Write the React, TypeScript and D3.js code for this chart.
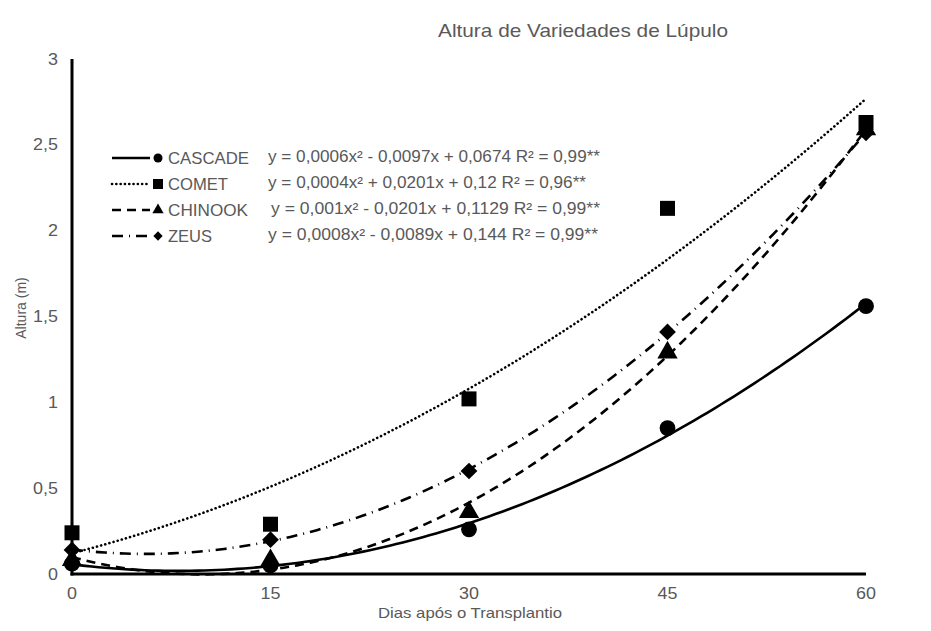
import * as d3 from 'd3'

const W = 931
const H = 631
const M = { top: 59, right: 65, bottom: 57, left: 72 }

const days = [0, 15, 30, 45, 60]
const yTicks = [0, 0.5, 1, 1.5, 2, 2.5, 3]

const cascade = [0.06, 0.05, 0.26, 0.85, 1.56]
const comet = [0.24, 0.29, 1.02, 2.13, 2.63]
const chinook = [0.08, 0.08, 0.36, 1.29, 2.59]
const zeus = [0.14, 0.2, 0.6, 1.41, 2.57]

const names = ['CASCADE', 'COMET', 'CHINOOK', 'ZEUS']
const equations = [
  'y = 0,0006x² - 0,0097x + 0,0674 R² = 0,99**',
  'y = 0,0004x² + 0,0201x + 0,12 R² = 0,96**',
  'y = 0,001x² - 0,0201x + 0,1129 R² = 0,99**',
  'y = 0,0008x² - 0,0089x + 0,144 R² = 0,99**',
]
// measured text widths in the original (px)
const nameWidths = [81, 60, 80, 44]
const eqWidths = [332, 318, 329, 330]
const eqStarts = [268, 268, 271, 268]

const FONT = '"Liberation Sans", Arial, sans-serif'
const GREY = '#595959'

// least squares quadratic fit (Excel-like trendline)
function fitQuad(xs: number[], ys: number[]) {
  const s = [0, 0, 0, 0, 0]
  const t = [0, 0, 0]
  xs.forEach((x, i) => {
    for (let k = 0; k < 5; k++) s[k] += Math.pow(x, k)
    for (let k = 0; k < 3; k++) t[k] += Math.pow(x, k) * ys[i]
  })
  const A = [
    [s[0], s[1], s[2], t[0]],
    [s[1], s[2], s[3], t[1]],
    [s[2], s[3], s[4], t[2]],
  ]
  for (let i = 0; i < 3; i++) {
    for (let j = i + 1; j < 3; j++) {
      const f = A[j][i] / A[i][i]
      for (let k = i; k < 4; k++) A[j][k] -= f * A[i][k]
    }
  }
  const c = [0, 0, 0]
  for (let i = 2; i >= 0; i--) {
    let v = A[i][3]
    for (let k = i + 1; k < 3; k++) v -= A[i][k] * c[k]
    c[i] = v / A[i][i]
  }
  return (x: number) => c[0] + c[1] * x + c[2] * x * x
}

const series = [
  { name: names[0], values: cascade, dash: undefined, marker: 'circle' },
  { name: names[1], values: comet, dash: '0.1 4.2', marker: 'square' },
  { name: names[2], values: chinook, dash: '9 6', marker: 'triangle' },
  { name: names[3], values: zeus, dash: '11 6 1 6', marker: 'diamond' },
]

function Marker({ type, x, y, size }: { type: string; x: number; y: number; size: number }) {
  const sym =
    type === 'circle' ? d3.symbolCircle :
    type === 'square' ? d3.symbolSquare :
    type === 'triangle' ? d3.symbolTriangle : d3.symbolDiamond2
  const area = type === 'triangle' || type === 'diamond' ? size * size * 0.55 : size * size
  const path = d3.symbol(sym, area)() || ''
  return <path d={path} transform={`translate(${x},${y})`} fill="#000" />
}

export default function App() {
  const x = d3.scaleLinear().domain([0, 60]).range([M.left, W - M.right])
  const y = d3.scaleLinear().domain([0, 3]).range([H - M.bottom, M.top])
  const samples = d3.range(0, 60.01, 0.5)

  return (
    <svg width={W} height={H} style={{ position: 'absolute', left: 0, top: 0, background: '#fff' }} fontFamily={FONT}>
      <rect width={W} height={H} fill="#fff" />
      <text x={438} y={37} fontSize={19} fill={GREY} textLength={290} lengthAdjust="spacingAndGlyphs">
        Altura de Variedades de Lúpulo
      </text>

      {/* trendlines */}
      {series.map(s => {
        const f = fitQuad(days, s.values)
        const line = d3.line<number>().x(d => x(d)).y(d => y(f(d)))
        return (
          <path key={s.name} d={line(samples) || ''} fill="none" stroke="#000" strokeWidth={2.6}
            strokeDasharray={s.dash} strokeLinecap={s.name === 'COMET' ? 'round' : 'butt'} />
        )
      })}

      {/* points */}
      {series.map(s => (
        <g key={s.name + '-pts'}>
          {s.values.map((v, i) => (
            <Marker key={i} type={s.marker} x={x(days[i])} y={y(v)}
              size={s.marker === 'square' ? 15 : s.marker === 'circle' ? 14 : 18} />
          ))}
        </g>
      ))}

      {/* axes */}
      <line x1={x(0)} x2={x(0)} y1={y(3)} y2={y(0) + 1.5} stroke="#000" strokeWidth={3} />
      <line x1={x(0) - 1.5} x2={x(60)} y1={y(0)} y2={y(0)} stroke="#000" strokeWidth={3} />

      {yTicks.map(t => (
        <text key={t} transform={`translate(58,${y(t)}) scale(1.12,1)`} dy="0.35em" textAnchor="end" fontSize={16} fill={GREY}>
          {String(t).replace('.', ',')}
        </text>
      ))}
      {days.map(d => (
        <text key={d} transform={`translate(${x(d)},599) scale(1.12,1)`} textAnchor="middle" fontSize={16} fill={GREY}>{d}</text>
      ))}

      <text x={378} y={618} fontSize={15} fill={GREY} textLength={184} lengthAdjust="spacingAndGlyphs">
        Dias após o Transplantio
      </text>
      <text transform={`translate(26,308) rotate(-90)`} textAnchor="middle" fontSize={14} fill={GREY}>Altura (m)</text>

      {/* legend */}
      {series.map((s, i) => {
        const ly = 158 + i * 26
        return (
          <g key={s.name + '-leg'}>
            <line x1={112} x2={150} y1={ly} y2={ly} stroke="#000" strokeWidth={2.6}
              strokeDasharray={s.dash} strokeLinecap={s.name === 'COMET' ? 'round' : 'butt'} />
            <Marker type={s.marker} x={158} y={ly} size={s.marker === 'square' ? 10 : s.marker === 'circle' ? 8 : 10} />
            <text x={168} y={ly} dy="0.36em" fontSize={17} fill={GREY} textLength={nameWidths[i]} lengthAdjust="spacingAndGlyphs">
              {s.name}
            </text>
            <text x={eqStarts[i]} y={ly - 2} dy="0.36em" fontSize={16} fill={GREY} textLength={eqWidths[i]} lengthAdjust="spacingAndGlyphs">
              {equations[i]}
            </text>
          </g>
        )
      })}
    </svg>
  )
}
